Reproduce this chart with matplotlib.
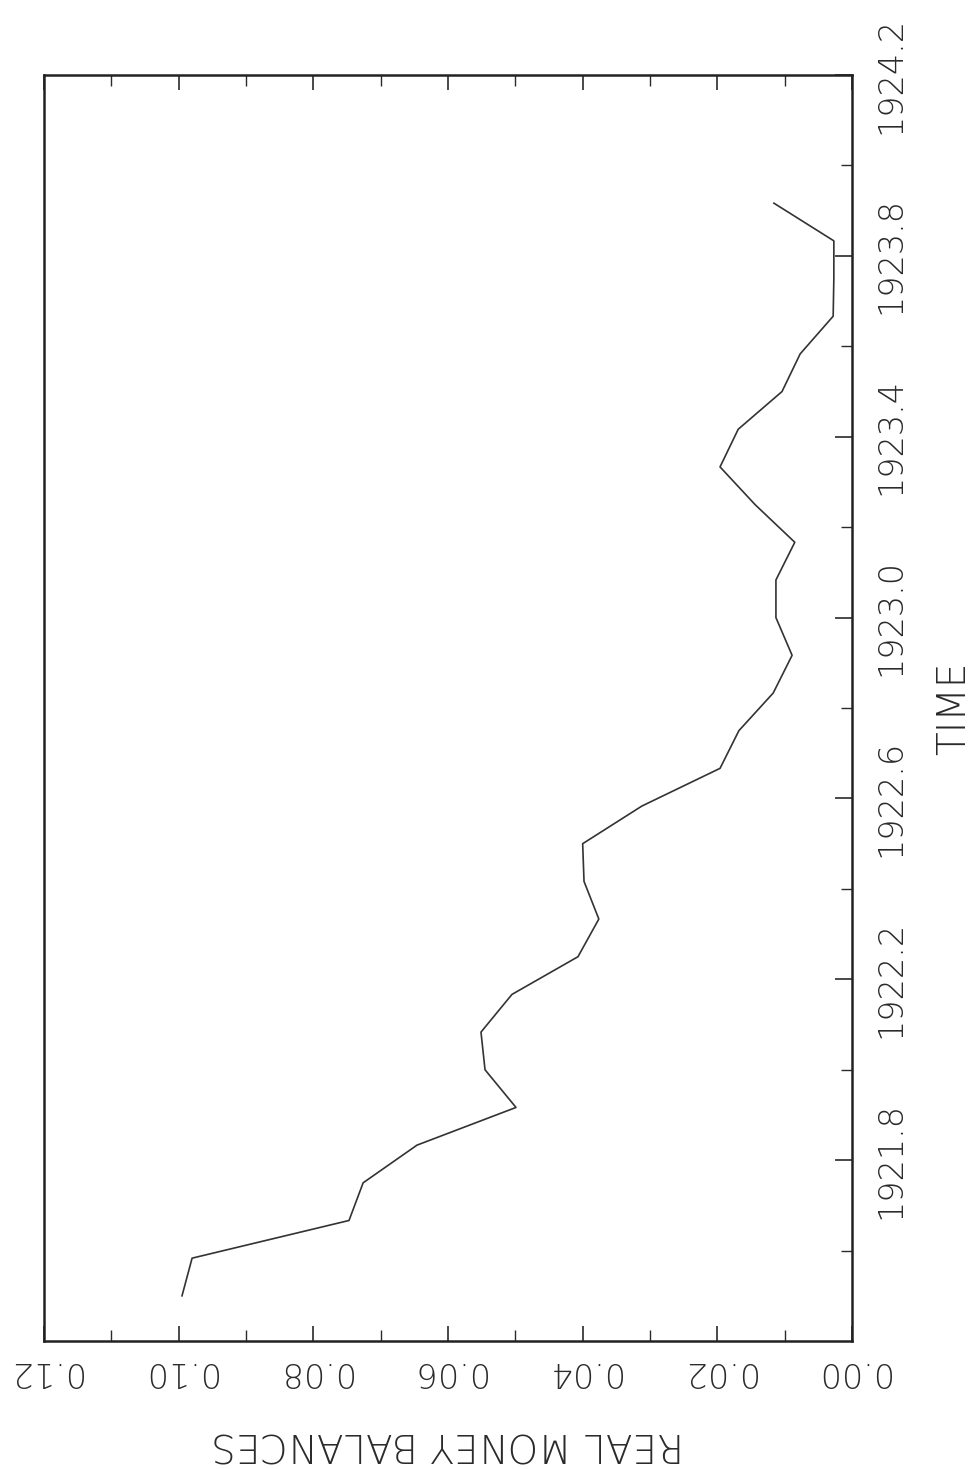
## Real money balances over time, drawn rotated like the scanned page
import numpy as np
import matplotlib
matplotlib.use("Agg")
import matplotlib.pyplot as plt
from matplotlib.ticker import FixedLocator, FormatStrFormatter

# Monthly observations, starting mid 1921
months = np.arange(30)
time = 1921.5 + months / 12.0
balances = [0.0995, 0.0980, 0.0747, 0.0726, 0.0646, 0.0499, 0.0545, 0.0551,
            0.0505, 0.0407, 0.0376, 0.0398, 0.0400, 0.0312, 0.0196, 0.0168,
            0.0117, 0.0089, 0.0113, 0.0113, 0.0085, 0.0144, 0.0196, 0.0169,
            0.0104, 0.0077, 0.0028, 0.0027, 0.0027, 0.0116]

money_major = np.round(np.arange(0.0, 0.121, 0.02), 2)
money_minor = np.round(np.arange(0.0, 0.121, 0.01), 2)
time_major = np.round(np.arange(1921.8, 1924.21, 0.4), 1)
time_minor = np.round(np.arange(1921.6, 1924.21, 0.2), 1)

plt.rcParams['font.family'] = ['DejaVu Sans']
plt.rcParams['font.weight'] = 'light'
plt.rcParams['axes.labelweight'] = 'light'

fig = plt.figure(figsize=(9.79, 14.69), dpi=100)
ax = fig.add_axes([0.0449, 0.0871, 0.8254, 0.8618])

ax.plot(balances, time, color='#333333', lw=1.2)

ax.set_xlim(0.12, 0.0)
ax.set_ylim(1921.4, 1924.2)

ax.xaxis.set_major_locator(FixedLocator(money_major))
ax.xaxis.set_minor_locator(FixedLocator(money_minor))
ax.xaxis.set_major_formatter(FormatStrFormatter('%.2f'))
ax.yaxis.set_major_locator(FixedLocator(time_major))
ax.yaxis.set_minor_locator(FixedLocator(time_minor))
ax.yaxis.set_major_formatter(FormatStrFormatter('%.1f'))

ax.tick_params(axis='x', which='both', direction='in', top=True, bottom=True,
               labelsize=24, pad=10, labelrotation=180, colors='#2a2a2a')
ax.tick_params(axis='x', which='major', length=11, width=1.2)
ax.tick_params(axis='x', which='minor', length=8, width=1.0)
ax.tick_params(axis='y', which='both', direction='in', left=False, right=True,
               labelleft=False, labelright=True, labelsize=24, pad=16,
               labelrotation=90, colors='#2a2a2a')
ax.tick_params(axis='y', which='major', length=12, width=1.2)
ax.tick_params(axis='y', which='minor', length=8, width=1.0)
for lab in ax.get_yticklabels():
    lab.set_va('center')

for s in ax.spines.values():
    s.set_linewidth(1.8)
    s.set_color('#222222')

ax.set_xlabel('REAL MONEY BALANCES', fontsize=28, fontweight='light',
              rotation=180, color='#2a2a2a')
ax.xaxis.set_label_coords(0.5, -0.081)
ax.xaxis.label.set_va('center')
ax.yaxis.set_label_position('right')
ax.set_ylabel('TIME', fontsize=28, fontweight='light', rotation=90, color='#2a2a2a')
ax.yaxis.set_label_coords(1.126, 0.5)
ax.yaxis.label.set_va('center')

fig.savefig('out.png', dpi=100)
